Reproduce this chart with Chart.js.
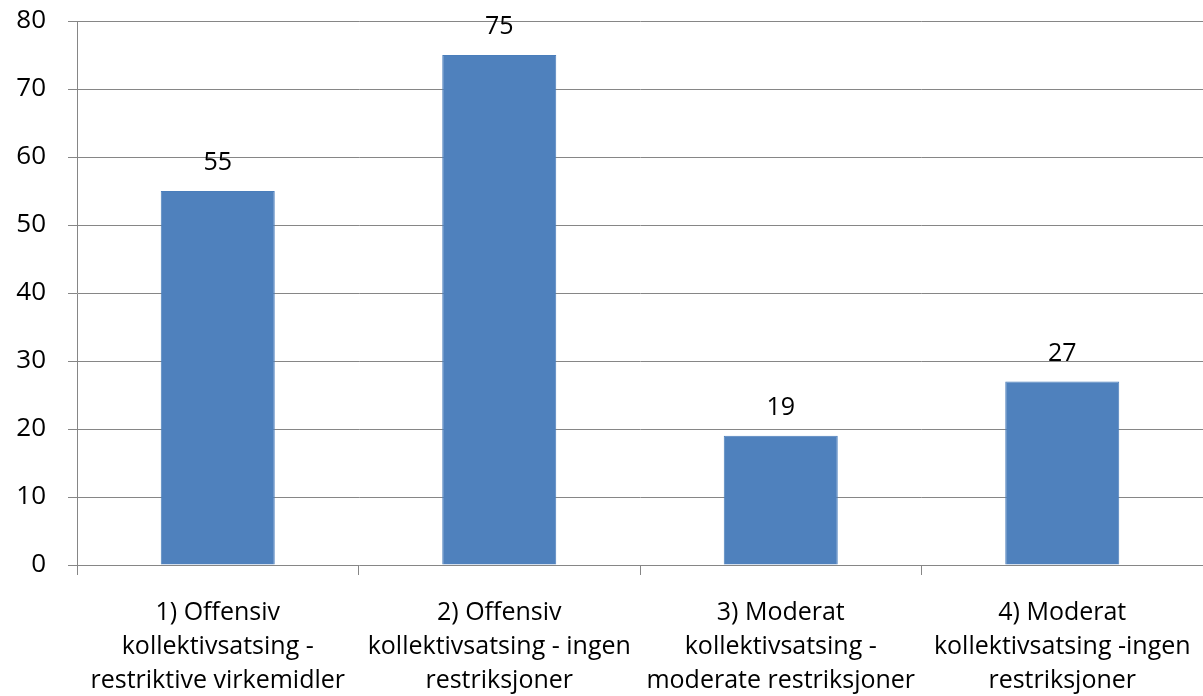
<!DOCTYPE html>
<html lang="no">
<head>
<meta charset="UTF-8">
<title>Kollektivsatsing</title>
<style>
  html, body { margin: 0; padding: 0; background: #fff; }
  #wrap { width: 1203px; height: 696px; }
</style>
</head>
<body>
<div id="wrap"><canvas id="myChart"></canvas></div>
<script src="https://cdn.jsdelivr.net/npm/chart.js"></script>
<script>
// kategorier (linjeskift som i originalen)
const categories = [
  ["1) Offensiv", "kollektivsatsing -", "restriktive virkemidler"],
  ["2) Offensiv", "kollektivsatsing - ingen", "restriksjoner"],
  ["3) Moderat", "kollektivsatsing -", "moderate restriksjoner"],
  ["4) Moderat", "kollektivsatsing -ingen", "restriksjoner"]
];
const values = [55, 75, 19, 27];
const yTicks = [0, 10, 20, 30, 40, 50, 60, 70, 80];

const fontFamily = "'Open Sans', Lato, sans-serif";
const gridColor = "#868686";

// tall over søylene
const barLabels = {
  id: "barLabels",
  afterDatasetsDraw(chart) {
    const ctx = chart.ctx;
    const meta = chart.getDatasetMeta(0);
    ctx.save();
    ctx.font = "25px " + fontFamily;
    ctx.fillStyle = "#000";
    ctx.textAlign = "center";
    ctx.textBaseline = "middle";
    meta.data.forEach((bar, i) => {
      ctx.fillText(values[i], bar.x, bar.y - 28);
    });
    ctx.restore();
  }
};

const ctx = document.getElementById("myChart").getContext("2d");
new Chart(ctx, {
  type: "bar",
  data: {
    labels: categories,
    datasets: [{
      data: values,
      backgroundColor: "#4F81BD",
      borderColor: "#4A7EBB",
      borderWidth: 1,
      categoryPercentage: 1,
      barPercentage: 0.405
    }]
  },
  options: {
    responsive: true,
    maintainAspectRatio: false,
    animation: false,
    layout: { padding: { top: 21, right: 0, left: 0, bottom: 0 } },
    plugins: {
      legend: { display: false },
      tooltip: { enabled: false }
    },
    scales: {
      x: {
        offset: true,
        grid: {
          offset: true,
          drawOnChartArea: false,
          color: gridColor,
          tickLength: 10,
          lineWidth: 1
        },
        border: { display: false },
        ticks: {
          color: "#000",
          font: { family: fontFamily, size: 25, lineHeight: "34px" },
          maxRotation: 0,
          autoSkip: false,
          padding: 21
        },
        afterFit(axis) { axis.height = 131; axis.paddingLeft = 0; axis.paddingRight = 0; }
      },
      y: {
        min: 0,
        max: 80,
        afterBuildTicks(axis) { axis.ticks = yTicks.map(v => ({ value: v })); },
        grid: {
          color: gridColor,
          tickLength: 9,
          lineWidth: 1
        },
        border: { display: true, color: gridColor, width: 1 },
        ticks: {
          color: "#000",
          font: { family: fontFamily, size: 26 },
          padding: 22
        },
        afterFit(axis) { axis.width = 77; axis.paddingTop = 0; axis.paddingBottom = 0; }
      }
    }
  },
  plugins: [barLabels]
});
</script>
</body>
</html>
